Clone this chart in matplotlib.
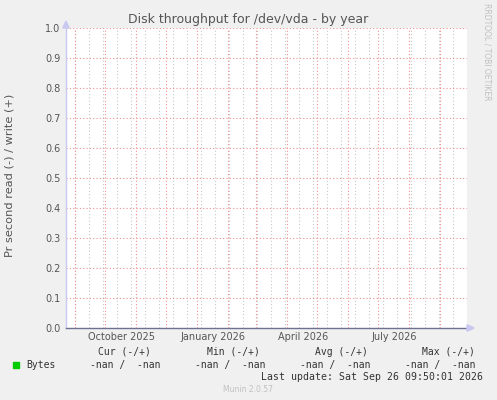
import numpy as np
import matplotlib
matplotlib.use("Agg")
import matplotlib.pyplot as plt
import matplotlib.dates as mdates
from matplotlib.patches import Polygon, Rectangle
from datetime import datetime, timedelta

# data: the series has no values (all nan) over the year window
t_start = datetime(2025, 8, 23, 12, 0)
t_end = datetime(2026, 9, 28, 0, 0)
dates = [t_start + timedelta(days=d) for d in range(0, 401, 5)]
bytes_read = [np.nan] * len(dates)
bytes_write = [np.nan] * len(dates)

yticks = [0.0, 0.1, 0.2, 0.3, 0.4, 0.5, 0.6, 0.7, 0.8, 0.9, 1.0]
month_lines = [datetime(2025, m, 1) for m in range(9, 13)] + [datetime(2026, m, 1) for m in range(1, 10)]
week_lines = [datetime(2025, 9, 1) + timedelta(days=14 * i) for i in range(0, 28)]
month_labels = ["October 2025", "January 2026", "April 2026", "July 2026"]
label_dates = [datetime(2025, 10, 17, 12), datetime(2026, 1, 17, 12),
               datetime(2026, 4, 17, 12), datetime(2026, 7, 17, 12)]

legend_headers = ["Cur (-/+)", "Min (-/+)", "Avg (-/+)", "Max (-/+)"]
legend_values = ["-nan /  -nan", "-nan /  -nan", "-nan /  -nan", "-nan /  -nan"]
last_update = "Last update: Sat Sep 26 09:50:01 2026"

W, H = 497, 400
fig = plt.figure(figsize=(W / 100, H / 100), dpi=100, facecolor="#f0f0f0")
ax = fig.add_axes([66 / W, 1 - 328 / H, 401 / W, 300 / H])
ax.set_facecolor("white")

def fx(x):
    return x / W

def fy(y):
    return 1 - y / H

# grid
for d in week_lines:
    if t_start < d < t_end:
        ax.axvline(d, color="#c8c8c8", lw=0.8, ls=(0, (1, 2)), zorder=1)
for d in month_lines:
    ax.axvline(d, color="#f09090", lw=0.8, ls=(0, (1, 2)), zorder=2)
for v in yticks[1:]:
    ax.axhline(v, color="#f09090", lw=0.8, ls=(0, (1, 2)), zorder=2)

ax.plot(dates, bytes_read, color="#00cc00", lw=1)
ax.plot(dates, bytes_write, color="#00cc00", lw=1)

ax.set_xlim(t_start, t_end)
ax.set_ylim(0, 1)
ax.set_yticks(yticks)
ax.set_yticklabels(["%.1f" % v for v in yticks])
ax.set_xticks(label_dates)
ax.set_xticklabels(month_labels)
ax.tick_params(axis="both", length=0, labelsize=7, colors="#555555", pad=4)
ax.tick_params(axis="x", pad=3)

for s in ["top", "right"]:
    ax.spines[s].set_visible(False)
ax.spines["left"].set_color("#c8c8f0")
ax.spines["left"].set_linewidth(1)
ax.spines["bottom"].set_color("#707090")
ax.spines["bottom"].set_linewidth(1)

# axis arrows
ax.add_patch(Polygon([[1.0, -0.011], [1.0, 0.011], [1.018, 0.0]], closed=True,
                     transform=ax.transAxes, clip_on=False, color="#c8c8f0", zorder=5))
ax.add_patch(Polygon([[-0.008, 1.0], [0.008, 1.0], [0.0, 1.023]], closed=True,
                     transform=ax.transAxes, clip_on=False, color="#c8c8f0", zorder=5))

fig.text(fx(248), fy(19), "Disk throughput for /dev/vda - by year", ha="center", va="center",
         fontsize=9, color="#555555")
fig.text(fx(10), fy(175.5), "Pr second read (-) / write (+)", ha="center", va="center",
         rotation=90, fontsize=8.2, color="#555555")
fig.text(fx(487.5), fy(52), "RRDTOOL / TOBI OETIKER", ha="center", va="center",
         rotation=270, fontsize=5.5, color="#c0c0c0")

# legend
fig.add_artist(Rectangle((fx(13), fy(368)), 6 / W, 6 / H, transform=fig.transFigure,
                         color="#00cc00"))
mono = "DejaVu Sans Mono"
fig.text(fx(26), fy(365), "Bytes", ha="left", va="center", fontsize=7, family=mono, color="#333333")
for x, s in zip([98, 207, 315, 422], legend_headers):
    fig.text(fx(x), fy(352), s, ha="left", va="center", fontsize=7, family=mono, color="#333333")
for x, s in zip([90, 195, 300, 405], legend_values):
    fig.text(fx(x), fy(365), s, ha="left", va="center", fontsize=7, family=mono, color="#333333")
fig.text(fx(483), fy(377), last_update, ha="right", va="center", fontsize=7.1, family=mono,
         color="#333333")
fig.text(fx(248), fy(390), "Munin 2.0.57", ha="center", va="center", fontsize=5.5,
         color="#c0c0c0")

fig.savefig("out.png", dpi=100, facecolor=fig.get_facecolor())
